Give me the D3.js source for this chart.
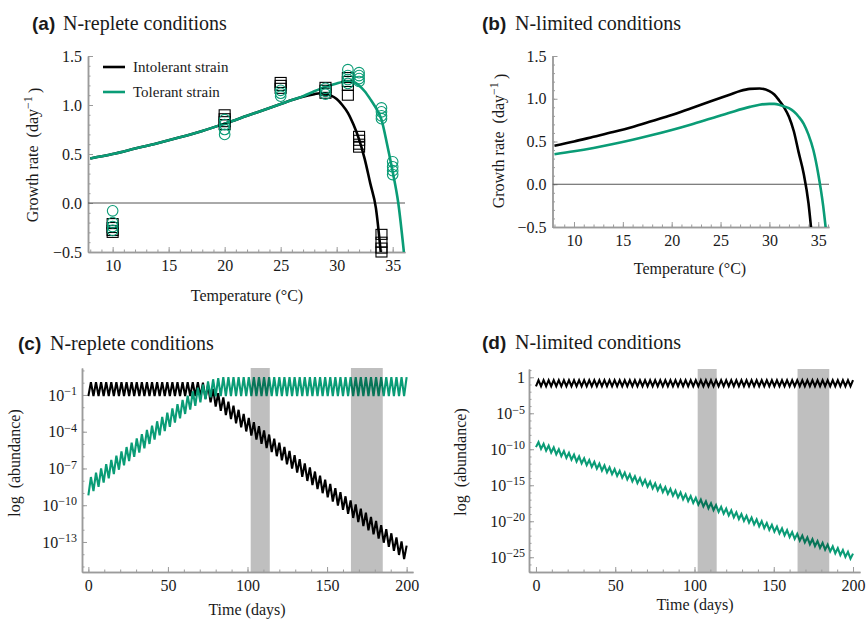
<!DOCTYPE html>
<html><head><meta charset="utf-8">
<script src="https://cdn.jsdelivr.net/npm/d3@7"></script>
<style>
body{margin:0;background:#fff}
</style>
</head><body>
<svg id="chart" width="866" height="623"></svg>
<script>
// ---------------- DATA ----------------
// Panel (a): N-replete growth curves
const aIntolTemp = [8,10,12,14,16,18,20,22,24,25,26,27,28,28.5,29,29.5,30,30.5,31,31.5,32,32.5,33,33.5,34];
const aIntolRate = [0.455,0.50,0.555,0.61,0.67,0.735,0.81,0.89,0.97,1.01,1.05,1.085,1.11,1.12,1.115,1.095,1.06,1.0,0.92,0.8,0.65,0.45,0.2,-0.05,-0.58];
const aTolTemp = [8,10,12,14,16,18,20,22,24,25,26,27,28,29,30,30.5,31,31.5,32,32.5,33,33.5,34,34.5,35,35.5,36];
const aTolRate = [0.455,0.50,0.555,0.61,0.67,0.735,0.81,0.89,0.97,1.01,1.05,1.09,1.14,1.185,1.22,1.235,1.24,1.235,1.2,1.14,1.06,0.97,0.85,0.6,0.32,0.0,-0.5];
// Panel (a): measured growth rates
const sqTemp = [10,10,10,10,20,20,20,20,25,25,25,29,29,29,31,31,31,31,32,32,32,32,34,34,34,34];
const sqRate = [-0.21,-0.25,-0.28,-0.30,0.90,0.86,0.83,0.80,1.23,1.20,1.17,1.18,1.15,1.12,1.28,1.24,1.20,1.10,0.68,0.64,0.60,0.57,-0.32,-0.40,-0.46,-0.5];
const ciTemp = [10,10,10,10,20,20,20,20,25,25,25,29,29,29,31,31,31,31,32,32,32,32,34,34,34,34,35,35,35,35];
const ciRate = [-0.08,-0.2,-0.24,-0.28,0.85,0.8,0.75,0.7,1.15,1.12,1.09,1.17,1.14,1.11,1.36,1.30,1.26,1.22,1.33,1.30,1.27,1.24,0.97,0.93,0.89,0.86,0.42,0.37,0.33,0.29];
// Panel (b): N-limited growth curves
const bIntolTemp = [8,10,12,14,16,18,20,22,24,26,27,28,29,30,30.5,31,31.5,32,32.5,33,33.5,34,34.3];
const bIntolRate = [0.45,0.50,0.555,0.61,0.67,0.74,0.81,0.89,0.97,1.05,1.09,1.115,1.12,1.09,1.05,0.98,0.9,0.79,0.62,0.37,0.13,-0.22,-0.55];
const bTolTemp = [8,10,12,14,16,18,20,22,24,26,28,29,30,30.5,31,31.5,32,32.5,33,33.5,34,34.5,35,35.5,35.8];
const bTolRate = [0.35,0.385,0.425,0.47,0.52,0.575,0.635,0.70,0.77,0.84,0.905,0.93,0.94,0.94,0.93,0.91,0.89,0.85,0.79,0.71,0.58,0.40,0.12,-0.25,-0.55];

// Panels (c),(d): time series, log10(abundance) right after each transfer (low) and before next (high)
const lowDays = [0,3.2,6.4,9.6,12.8,16,19.2,22.4,25.6,28.8,32,35.2,38.4,41.6,44.8,48,51.2,54.4,57.6,60.8,64,67.2,70.4,73.6,76.8,80,83.2,86.4,89.6,92.8,96,99.2,102.4,105.6,108.8,112,115.2,118.4,121.6,124.8,128,131.2,134.4,137.6,140.8,144,147.2,150.4,153.6,156.8,160,163.2,166.4,169.6,172.8,176,179.2,182.4,185.6,188.8,192,195.2,198.4];
const highDays = [1.6,4.8,8,11.2,14.4,17.6,20.8,24,27.2,30.4,33.6,36.8,40,43.2,46.4,49.6,52.8,56,59.2,62.4,65.6,68.8,72,75.2,78.4,81.6,84.8,88,91.2,94.4,97.6,100.8,104,107.2,110.4,113.6,116.8,120,123.2,126.4,129.6,132.8,136,139.2,142.4,145.6,148.8,152,155.2,158.4,161.6,164.8,168,171.2,174.4,177.6,180.8,184,187.2,190.4,193.6,196.8,200];

const cIntolLow = [-1.1,-1.1,-1.1,-1.1,-1.1,-1.1,-1.1,-1.1,-1.1,-1.1,-1.1,-1.1,-1.1,-1.1,-1.1,-1.1,-1.1,-1.1,-1.1,-1.1,-1.1,-1.1,-1.15,-1.3,-1.6,-1.95,-2.3,-2.64,-2.97,-3.31,-3.65,-3.98,-4.32,-4.65,-4.99,-5.33,-5.66,-6.0,-6.34,-6.67,-7.01,-7.34,-7.68,-8.02,-8.35,-8.69,-9.02,-9.36,-9.7,-10.03,-10.37,-10.7,-11.04,-11.38,-11.71,-12.05,-12.38,-12.72,-13.06,-13.39,-13.73,-14.06,-14.4];
const cIntolHigh = [0.05,0.05,0.05,0.05,0.05,0.05,0.05,0.05,0.05,0.05,0.05,0.05,0.05,0.05,0.05,0.05,0.05,0.05,0.05,0.05,0.05,0.05,0.0,-0.2,-0.5,-0.85,-1.2,-1.54,-1.87,-2.21,-2.55,-2.88,-3.22,-3.55,-3.89,-4.23,-4.56,-4.9,-5.24,-5.57,-5.91,-6.24,-6.58,-6.92,-7.25,-7.59,-7.92,-8.26,-8.6,-8.93,-9.27,-9.6,-9.94,-10.28,-10.61,-10.95,-11.28,-11.62,-11.96,-12.29,-12.63,-12.96,-13.3];
const cTolLow = [-9.2,-8.85,-8.5,-8.15,-7.8,-7.45,-7.1,-6.75,-6.4,-6.05,-5.7,-5.35,-5.0,-4.65,-4.3,-3.95,-3.6,-3.25,-2.9,-2.55,-2.2,-1.88,-1.6,-1.35,-1.2,-1.12,-1.1,-1.1,-1.1,-1.1,-1.1,-1.1,-1.1,-1.1,-1.1,-1.1,-1.1,-1.1,-1.1,-1.1,-1.1,-1.1,-1.1,-1.1,-1.1,-1.1,-1.1,-1.1,-1.1,-1.1,-1.1,-1.1,-1.1,-1.1,-1.1,-1.1,-1.1,-1.1,-1.1,-1.1,-1.1,-1.1,-1.1];
const cTolHigh = [-7.7,-7.35,-7.0,-6.65,-6.3,-5.95,-5.6,-5.25,-4.9,-4.55,-4.2,-3.85,-3.5,-3.15,-2.8,-2.45,-2.1,-1.75,-1.4,-1.05,-0.7,-0.4,-0.15,0.1,0.28,0.38,0.45,0.45,0.45,0.45,0.45,0.45,0.45,0.45,0.45,0.45,0.45,0.45,0.45,0.45,0.45,0.45,0.45,0.45,0.45,0.45,0.45,0.45,0.45,0.45,0.45,0.45,0.45,0.45,0.45,0.45,0.45,0.45,0.45,0.45,0.45,0.45,0.45];
const dIntolLow = [-1.25,-1.25,-1.25,-1.25,-1.25,-1.25,-1.25,-1.25,-1.25,-1.25,-1.25,-1.25,-1.25,-1.25,-1.25,-1.25,-1.25,-1.25,-1.25,-1.25,-1.25,-1.25,-1.25,-1.25,-1.25,-1.25,-1.25,-1.25,-1.25,-1.25,-1.25,-1.25,-1.25,-1.25,-1.25,-1.25,-1.25,-1.25,-1.25,-1.25,-1.25,-1.25,-1.25,-1.25,-1.25,-1.25,-1.25,-1.25,-1.25,-1.25,-1.25,-1.25,-1.25,-1.25,-1.25,-1.25,-1.25,-1.25,-1.25,-1.25,-1.25,-1.25,-1.25];
const dIntolHigh = [-0.4,-0.4,-0.4,-0.4,-0.4,-0.4,-0.4,-0.4,-0.4,-0.4,-0.4,-0.4,-0.4,-0.4,-0.4,-0.4,-0.4,-0.4,-0.4,-0.4,-0.4,-0.4,-0.4,-0.4,-0.4,-0.4,-0.4,-0.4,-0.4,-0.4,-0.4,-0.4,-0.4,-0.4,-0.4,-0.4,-0.4,-0.4,-0.4,-0.4,-0.4,-0.4,-0.4,-0.4,-0.4,-0.4,-0.4,-0.4,-0.4,-0.4,-0.4,-0.4,-0.4,-0.4,-0.4,-0.4,-0.4,-0.4,-0.4,-0.4,-0.4,-0.4,-0.4];
const dTolLow = [-9.7,-9.95,-10.2,-10.45,-10.7,-10.95,-11.2,-11.45,-11.7,-11.95,-12.2,-12.45,-12.7,-12.95,-13.2,-13.45,-13.7,-13.95,-14.2,-14.45,-14.7,-14.95,-15.2,-15.45,-15.7,-15.95,-16.2,-16.45,-16.7,-16.95,-17.2,-17.45,-17.7,-17.95,-18.2,-18.45,-18.7,-18.95,-19.2,-19.45,-19.7,-19.95,-20.2,-20.45,-20.7,-20.95,-21.2,-21.45,-21.7,-21.95,-22.2,-22.45,-22.7,-22.95,-23.2,-23.45,-23.7,-23.95,-24.2,-24.45,-24.7,-24.95,-25.2];
const dTolHigh = [-9.0,-9.25,-9.5,-9.75,-10.0,-10.25,-10.5,-10.75,-11.0,-11.25,-11.5,-11.75,-12.0,-12.25,-12.5,-12.75,-13.0,-13.25,-13.5,-13.75,-14.0,-14.25,-14.5,-14.75,-15.0,-15.25,-15.5,-15.75,-16.0,-16.25,-16.5,-16.75,-17.0,-17.25,-17.5,-17.75,-18.0,-18.25,-18.5,-18.75,-19.0,-19.25,-19.5,-19.75,-20.0,-20.25,-20.5,-20.75,-21.0,-21.25,-21.5,-21.75,-22.0,-22.25,-22.5,-22.75,-23.0,-23.25,-23.5,-23.75,-24.0,-24.25,-24.5];

// Heat-wave windows (days)
const bandStart = [102, 165];
const bandEnd = [114, 185];

// Tick values
const tempTicks = [10,15,20,25,30,35];
const rateTicks = [-0.5,0,0.5,1.0,1.5];
const dayTicks = [0,50,100,150,200];
const cLogTicks = [-1,-4,-7,-10,-13];
const dLogTicks = [0,-5,-10,-15,-20,-25];
const seriesNames = ["Intolerant strain","Tolerant strain"];

// ---------------- DRAWING ----------------
const SERIF = "'Liberation Serif','Times New Roman',Times,serif";
const SANS = "'Liberation Sans',Arial,Helvetica,sans-serif";
const GREEN = "#0a9c76", BLACK = "#000", AX = "#9b9b9b", INK = "#1a1a1a";
const TICKFS = 16;
const svg = d3.select("#chart");

function styleAxis(g, fs) {
  g.attr("font-family", SERIF).attr("font-size", fs);
  g.select(".domain").attr("stroke", AX).attr("stroke-width", 1.5);
  g.selectAll(".tick line").attr("stroke", AX).attr("stroke-width", 1);
  g.selectAll(".tick text").attr("font-family", SERIF).attr("font-size", fs).attr("fill", INK);
}

function supLabel(sel, v) {
  sel.text(null);
  if (v === 0) { sel.append("tspan").text("1"); return; }
  sel.append("tspan").text("10");
  sel.append("tspan").attr("dy", "-0.45em").attr("font-size", 12).text("\u2212" + Math.abs(v));
}

function axes(x, y, o) {
  const [y0] = y.range(), [x0] = x.range();
  svg.append("g").attr("transform", `translate(0,${y0})`)
    .call(d3.axisBottom(x).tickValues(o.xMinor).tickSize(-2.5).tickSizeOuter(0).tickFormat(""))
    .call(g => styleAxis(g, TICKFS));
  svg.append("g").attr("transform", `translate(${x0},0)`)
    .call(d3.axisLeft(y).tickValues(o.yMinor).tickSize(-2.5).tickSizeOuter(0).tickFormat(""))
    .call(g => styleAxis(g, TICKFS));
  svg.append("g").attr("transform", `translate(0,${y0})`)
    .call(d3.axisBottom(x).tickValues(o.xMajor).tickSize(-5).tickSizeOuter(0).tickPadding(8).tickFormat(o.xFmt))
    .call(g => styleAxis(g, TICKFS));
  const gy = svg.append("g").attr("transform", `translate(${x0},0)`)
    .call(d3.axisLeft(y).tickValues(o.yMajor).tickSize(-5).tickSizeOuter(0).tickPadding(o.yPad).tickFormat(o.yFmt || null))
    .call(g => styleAxis(g, TICKFS));
  if (o.sup) gy.selectAll(".tick text").each(function(d){ supLabel(d3.select(this), d); });
}

function title(x1, x2, yb, tag, txt) {
  const t = svg.append("text").attr("y", yb).attr("fill", INK);
  t.append("tspan").attr("x", x1).attr("font-family", SANS).attr("font-weight", "bold").attr("font-size", 19).text(tag);
  t.append("tspan").attr("x", x2).attr("font-family", SERIF).attr("font-size", 20).text(txt);
}

function yLabelGrowth(x, yc) {
  const t = svg.append("text").attr("transform", `translate(${x},${yc}) rotate(-90)`).attr("text-anchor", "middle")
    .attr("font-family", SERIF).attr("font-size", 16).attr("fill", INK);
  t.append("tspan").text("Growth rate\u2002(day");
  t.append("tspan").attr("dy", "-0.5em").attr("font-size", 12).text("\u22121");
  t.append("tspan").attr("dy", "0.5em").text("\u2009)");
}
function yLabel(x, yc, txt) {
  svg.append("text").attr("transform", `translate(${x},${yc}) rotate(-90)`).attr("text-anchor", "middle")
    .attr("font-family", SERIF).attr("font-size", 16).attr("fill", INK).text(txt);
}
function xLabel(xc, yb, txt) {
  svg.append("text").attr("x", xc).attr("y", yb).attr("text-anchor", "middle")
    .attr("font-family", SERIF).attr("font-size", 16).attr("fill", INK).text(txt);
}
function clip(id, x, y) {
  svg.append("clipPath").attr("id", id).append("rect")
    .attr("x", x.range()[0]).attr("y", y.range()[1])
    .attr("width", x.range()[1] - x.range()[0]).attr("height", y.range()[0] - y.range()[1]);
  return svg.append("g").attr("clip-path", `url(#${id})`);
}
const fmtRate = d => d === 0 ? "0.0" : (d < 0 ? "\u2212" + Math.abs(d).toFixed(1) : d.toFixed(1));

// ---- Panel (a)
const xA = d3.scaleLinear().domain([7.8, 36.1]).range([88, 405]);
const yA = d3.scaleLinear().domain([-0.5, 1.5]).range([252, 56]);
axes(xA, yA, {xMinor: d3.range(8, 36.01, 1), yMinor: d3.range(-0.5, 1.501, 0.1), xMajor: tempTicks, yMajor: rateTicks, xFmt: d3.format("d"), yFmt: fmtRate, yPad: 6});
const pA = clip("clipA", xA, yA);
pA.append("line").attr("x1", xA.range()[0]).attr("x2", xA.range()[1]).attr("y1", yA(0)).attr("y2", yA(0)).attr("stroke", "#555").attr("stroke-width", 1);
const lineA = d3.line().x(d => xA(d[0])).y(d => yA(d[1])).curve(d3.curveMonotoneX);
pA.append("path").attr("d", lineA(d3.zip(aIntolTemp, aIntolRate))).attr("fill", "none").attr("stroke", BLACK).attr("stroke-width", 2.6);
pA.append("path").attr("d", lineA(d3.zip(aTolTemp, aTolRate))).attr("fill", "none").attr("stroke", GREEN).attr("stroke-width", 2.6);
const pAm = svg.append("g");
pAm.selectAll("rect.sq").data(d3.zip(sqTemp, sqRate)).join("rect").attr("class", "sq")
  .attr("x", d => xA(d[0]) - 5.5).attr("y", d => yA(d[1]) - 5).attr("width", 11).attr("height", 10)
  .attr("fill", "none").attr("stroke", BLACK).attr("stroke-width", 1.1);
pAm.selectAll("circle").data(d3.zip(ciTemp, ciRate)).join("circle")
  .attr("cx", d => xA(d[0])).attr("cy", d => yA(d[1])).attr("r", 5.3)
  .attr("fill", "none").attr("stroke", GREEN).attr("stroke-width", 1.1);
[[BLACK, 67], [GREEN, 92]].forEach(([c, ly], i) => {
  svg.append("line").attr("x1", 103).attr("x2", 125).attr("y1", ly).attr("y2", ly).attr("stroke", c).attr("stroke-width", 2.6);
  svg.append("text").attr("x", 133).attr("y", ly + 5).attr("font-family", SERIF).attr("font-size", 15).attr("fill", INK).text(seriesNames[i]);
});
title(32, 63, 30, "(a)", "N-replete conditions");
yLabelGrowth(38, 155);
xLabel(247, 301, "Temperature (\u00B0C)");

// ---- Panel (b)
const xB = d3.scaleLinear().domain([7.8, 36.1]).range([552.5, 829]);
const yB = d3.scaleLinear().domain([-0.5, 1.5]).range([227, 56]);
axes(xB, yB, {xMinor: d3.range(8, 36.01, 1), yMinor: d3.range(-0.5, 1.501, 0.1), xMajor: tempTicks, yMajor: rateTicks, xFmt: d3.format("d"), yFmt: fmtRate, yPad: 6});
const pB = clip("clipB", xB, yB);
pB.append("line").attr("x1", xB.range()[0]).attr("x2", xB.range()[1]).attr("y1", yB(0)).attr("y2", yB(0)).attr("stroke", "#555").attr("stroke-width", 1);
const lineB = d3.line().x(d => xB(d[0])).y(d => yB(d[1])).curve(d3.curveMonotoneX);
pB.append("path").attr("d", lineB(d3.zip(bIntolTemp, bIntolRate))).attr("fill", "none").attr("stroke", BLACK).attr("stroke-width", 2.6);
pB.append("path").attr("d", lineB(d3.zip(bTolTemp, bTolRate))).attr("fill", "none").attr("stroke", GREEN).attr("stroke-width", 2.6);
title(482, 515, 30, "(b)", "N-limited conditions");
yLabelGrowth(504, 141);
xLabel(690, 274, "Temperature (\u00B0C)");

// ---- Time series helper
function zig(low, high) {
  return lowDays.flatMap((d, k) => [[d, low[k]], [highDays[k], high[k]]]);
}
function timePanel(x, y, id, series) {
  const p = clip(id, x, y);
  const ln = d3.line().x(d => x(d[0])).y(d => y(d[1]));
  series.forEach(([lo, hi, c]) => {
    p.append("path").attr("d", ln(zig(lo, hi))).attr("fill", "none").attr("stroke", c).attr("stroke-width", 2.1).attr("stroke-linejoin", "miter");
  });
  p.selectAll("rect.band").data(d3.zip(bandStart, bandEnd)).join("rect").attr("class", "band")
    .attr("x", d => x(d[0])).attr("width", d => x(d[1]) - x(d[0]))
    .attr("y", y.range()[1]).attr("height", y.range()[0] - y.range()[1])
    .attr("fill", "#000").attr("fill-opacity", 0.25);
}

// ---- Panel (c)
const xC = d3.scaleLinear().domain([-4, 204]).range([82, 413]);
const yC = d3.scaleLinear().domain([-15.45, 1.2]).range([572, 368]);
timePanel(xC, yC, "clipC", [[cIntolLow, cIntolHigh, BLACK], [cTolLow, cTolHigh, GREEN]]);
axes(xC, yC, {xMinor: d3.range(0, 200.1, 10), yMinor: d3.range(-15, 1.01, 1), xMajor: dayTicks, yMajor: cLogTicks, xFmt: d3.format("d"), yPad: 5, sup: true});
title(18, 50, 350, "(c)", "N-replete conditions");
yLabel(20, 463, "log\u2002(abundance)");
xLabel(247, 615, "Time (days)");

// ---- Panel (d)
const xD = d3.scaleLinear().domain([-4.4, 204.4]).range([529, 860]);
const yD = d3.scaleLinear().domain([-27.05, 1.15]).range([572, 369]);
timePanel(xD, yD, "clipD", [[dIntolLow, dIntolHigh, BLACK], [dTolLow, dTolHigh, GREEN]]);
axes(xD, yD, {xMinor: d3.range(0, 200.1, 10), yMinor: d3.range(-27, 1.01, 1), xMajor: dayTicks, yMajor: dLogTicks, xFmt: d3.format("d"), yPad: 4, sup: true});
title(482, 515, 349, "(d)", "N-limited conditions");
yLabel(466, 462, "log\u2002(abundance)");
xLabel(695, 610, "Time (days)");
</script>
</body></html>
